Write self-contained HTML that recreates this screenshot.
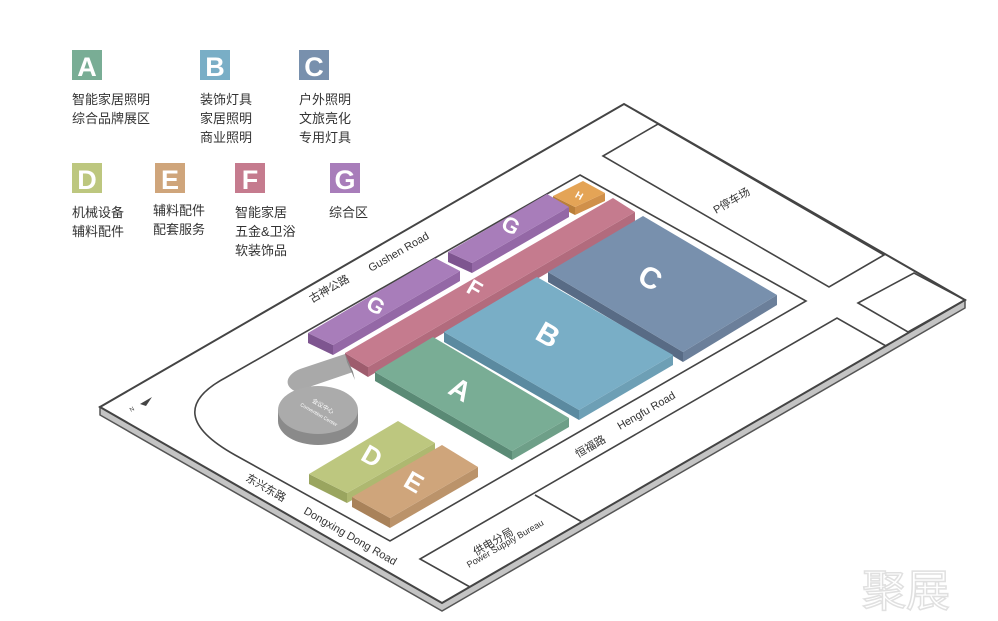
<!DOCTYPE html>
<html><head><meta charset="utf-8"><style>
html,body{margin:0;padding:0;background:#fff;}
svg{display:block;}
text{font-family:"Liberation Sans","Noto Sans CJK SC",sans-serif;}
</style></head><body>
<svg width="998" height="621" viewBox="0 0 998 621" xmlns="http://www.w3.org/2000/svg">
<!-- legend -->
<g font-size="13" fill="#333">
<rect x="72" y="50" width="30" height="30" fill="#79ad95"/><text x="87" y="76" font-size="27" font-weight="bold" fill="#fff" text-anchor="middle">A</text>
<text x="72" y="104">智能家居照明</text><text x="72" y="123">综合品牌展区</text>
<rect x="200" y="50" width="30" height="30" fill="#79aec6"/><text x="215" y="76" font-size="27" font-weight="bold" fill="#fff" text-anchor="middle">B</text>
<text x="200" y="104">装饰灯具</text><text x="200" y="123">家居照明</text><text x="200" y="142">商业照明</text>
<rect x="299" y="50" width="30" height="30" fill="#7890ad"/><text x="314" y="76" font-size="27" font-weight="bold" fill="#fff" text-anchor="middle">C</text>
<text x="299" y="104">户外照明</text><text x="299" y="123">文旅亮化</text><text x="299" y="142">专用灯具</text>
<rect x="72" y="163" width="30" height="30" fill="#bdc77f"/><text x="87" y="189" font-size="27" font-weight="bold" fill="#fff" text-anchor="middle">D</text>
<text x="72" y="217">机械设备</text><text x="72" y="236">辅料配件</text>
<rect x="155" y="163" width="30" height="30" fill="#cfa57b"/><text x="170" y="189" font-size="27" font-weight="bold" fill="#fff" text-anchor="middle">E</text>
<text x="153" y="215">辅料配件</text><text x="153" y="234">配套服务</text>
<rect x="235" y="163" width="30" height="30" fill="#c57b8e"/><text x="250" y="189" font-size="27" font-weight="bold" fill="#fff" text-anchor="middle">F</text>
<text x="235" y="217">智能家居</text><text x="235" y="236">五金&amp;卫浴</text><text x="235" y="255">软装饰品</text>
<rect x="330" y="163" width="30" height="30" fill="#a87dba"/><text x="345" y="189" font-size="27" font-weight="bold" fill="#fff" text-anchor="middle">G</text>
<text x="329" y="217">综合区</text>
</g>

<!-- base plate -->
<polygon points="100,407 442,603 965,300 965,308 442,611 100,415" fill="#c4c4c4" stroke="#555" stroke-width="1.5"/>
<polygon points="100,407 624,104 965,300 442,603" fill="#fff" stroke="#444" stroke-width="2"/>
<g fill="none" stroke="#444" stroke-width="1.6">
<polygon points="603,156 658,124 884,255 829,287"/>
<polygon points="858,303 914,273 965,300 908,332"/>
<polyline points="886,346 837,318 420,559 470,587"/>
<line x1="535" y1="495" x2="582" y2="522"/>
<path d="M580,175 L806,301 L390,541 L235,455 Q160,413 225,378 Z"/>
</g>

<!-- buildings -->
<g>
<polygon points="553,196 575,207 575,215 553,204" fill="#b97f3a"/><polygon points="575,207 605,193 605,201 575,215" fill="#d0904a"/>
<polygon points="553,196 583,181 605,193 575,207" fill="#e4a456"/>
<text x="579" y="199" font-size="10" font-weight="bold" fill="#fff" text-anchor="middle" transform="rotate(30 579 196)">H</text>
<polygon points="448,252 472,263 472,273 448,262" fill="#7e5590"/><polygon points="472,263 569,207 569,217 472,273" fill="#9468a6"/>
<polygon points="448,252 547,194 569,207 472,263" fill="#a87dba"/>
<polygon points="308,333 333,345 333,355 308,343" fill="#7e5590"/><polygon points="333,345 460,271 460,281 333,355" fill="#9468a6"/>
<polygon points="308,333 435,258 460,271 333,345" fill="#a87dba"/>
<polygon points="345,353 368,367 368,377 345,363" fill="#9e5c6d"/><polygon points="368,367 635,212 635,222 368,377" fill="#b26b7d"/>
<polygon points="345,353 613,198 635,212 368,367" fill="#c57b8e"/>
<polygon points="548,272 683,352 683,362 548,282" fill="#586b85"/><polygon points="683,352 777,295 777,305 683,362" fill="#6b7f9a"/>
<polygon points="548,272 643,216 777,295 683,352" fill="#7890ad"/>
<polygon points="444,332 579,410 579,420 444,342" fill="#5b8aa0"/><polygon points="579,410 673,355 673,365 579,420" fill="#6d9fb5"/>
<polygon points="444,332 537,277 673,355 579,410" fill="#79aec6"/>
<polygon points="375,372 512,451 512,460 375,381" fill="#5a8a75"/><polygon points="512,451 569,418 569,427 512,460" fill="#6e9f88"/>
<polygon points="375,372 433,337 569,418 512,451" fill="#79ad95"/>
<!-- conference -->
<path d="M300,393 C282,388 285,375 300,369 L345,354 L353,372 L312,386 C300,390 300,393 300,393 Z" fill="#a9a9a9"/>
<polygon points="345,354 353,372 355,380 347,362" fill="#8a8a8a"/>
<ellipse cx="318" cy="421" rx="40" ry="24" fill="#8a8a8a"/>
<rect x="278" y="410" width="80" height="11" fill="#8a8a8a"/>
<ellipse cx="318" cy="410" rx="40" ry="24" fill="#ababab"/>
<text x="322" y="408" font-size="6" fill="#fff" text-anchor="middle" transform="rotate(30 322 408)">会议中心</text>
<text x="318" y="416" font-size="5" fill="#fff" text-anchor="middle" transform="rotate(30 318 416)">Convention Center</text>
<polygon points="309,474 347,493 347,503 309,484" fill="#9aa55f"/><polygon points="347,493 435,443 435,453 347,503" fill="#aeb870"/>
<polygon points="309,474 398,421 435,443 347,493" fill="#bdc77f"/>
<polygon points="352,497 390,518 390,528 352,507" fill="#a9825a"/><polygon points="390,518 478,467 478,477 390,528" fill="#bb936a"/>
<polygon points="352,497 442,445 478,467 390,518" fill="#cfa57b"/>
</g>

<g fill="#fff" font-weight="bold" text-anchor="middle">
<text x="460" y="399" font-size="28" transform="rotate(30 460 390)">A</text>
<text x="548" y="345" font-size="30" transform="rotate(30 548 335)">B</text>
<text x="650" y="288" font-size="30" transform="rotate(30 650 278)">C</text>
<text x="372" y="465" font-size="26" transform="rotate(30 372 456)">D</text>
<text x="414" y="491" font-size="26" transform="rotate(30 414 482)">E</text>
<text x="475" y="296" font-size="22" transform="rotate(30 475 288)">F</text>
<text x="376" y="313" font-size="22" transform="rotate(30 376 305)">G</text>
<text x="511" y="233" font-size="22" transform="rotate(30 511 225)">G</text>
</g>

<g font-size="11" fill="#333">
<text x="312" y="303" transform="rotate(-30 312 303)">古神公路</text>
<text x="371" y="272" transform="rotate(-30 371 272)">Gushen Road</text>
<text x="578" y="458" transform="rotate(-30 578 458)">恒福路</text>
<text x="620" y="430" transform="rotate(-30 620 430)">Hengfu Road</text>
<text x="245" y="480" transform="rotate(30 245 480)">东兴东路</text>
<text x="303" y="513" transform="rotate(30 303 513)">Dongxing Dong Road</text>
<text x="716" y="214" transform="rotate(-30 716 214)">P停车场</text>
<text x="476" y="556" transform="rotate(-30 476 556)">供电分局</text>
<text x="469" y="568" font-size="9" transform="rotate(-30 469 568)">Power Supply Bureau</text>
</g>
<polygon points="140,404 152,397 146,406" fill="#444"/>
<text x="131" y="412" font-size="6" fill="#444" transform="rotate(-30 131 412)">N</text>
<text x="862" y="606" font-size="44" fill="none" stroke="#e0e0e0" stroke-width="1.5" font-family="'Noto Sans CJK SC',sans-serif">聚展</text>
</svg>
</body></html>
